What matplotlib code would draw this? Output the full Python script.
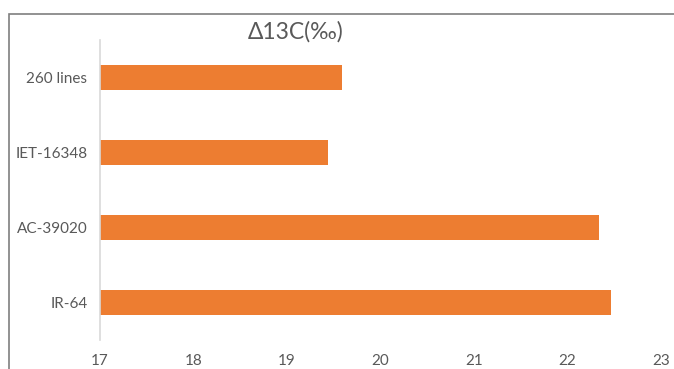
import matplotlib
matplotlib.use("Agg")
import matplotlib.pyplot as plt
from matplotlib.patches import Rectangle

# data
lines = ["IR-64", "AC-39020", "IET-16348", "260 lines"]
d13c = [22.46, 22.34, 19.44, 19.59]
xticks = [17, 18, 19, 20, 21, 22, 23]

plt.rcParams['font.family'] = ['Lato', 'DejaVu Sans']

fig = plt.figure(figsize=(6.74, 3.69), dpi=100)
ax = fig.add_axes([100/674, 1-340/369, 561/674, 300/369])

# outer chart frame (only top/left visible in crop)
fig.patches.append(Rectangle((9/674, -0.1), 1.2, 1-14/369+0.1, transform=fig.transFigure,
                             fill=False, edgecolor="#7f7f7f", linewidth=1.2))

ax.barh(range(len(lines)), [v - 17 for v in d13c], left=17, height=0.34, color="#ED7D31")
ax.set_xlim(17, 23)
ax.set_ylim(-0.5, 3.5)
ax.set_xticks(xticks)
ax.set_xticklabels([str(t) for t in xticks])
ax.set_yticks(range(len(lines)))
ax.set_yticklabels(lines)

for s in ["top", "right", "bottom"]:
    ax.spines[s].set_visible(False)
ax.spines["left"].set_color("#d9d9d9")
ax.spines["left"].set_linewidth(1.2)
ax.tick_params(length=0, labelsize=11, labelcolor="#595959")
ax.tick_params(axis="x", pad=10)
ax.tick_params(axis="y", pad=9)

fig.text(296/674, 1-32/369, "Δ13C(‰)", ha="center", va="center", fontsize=16.5, color="#595959")

fig.savefig("out.png", dpi=100)
